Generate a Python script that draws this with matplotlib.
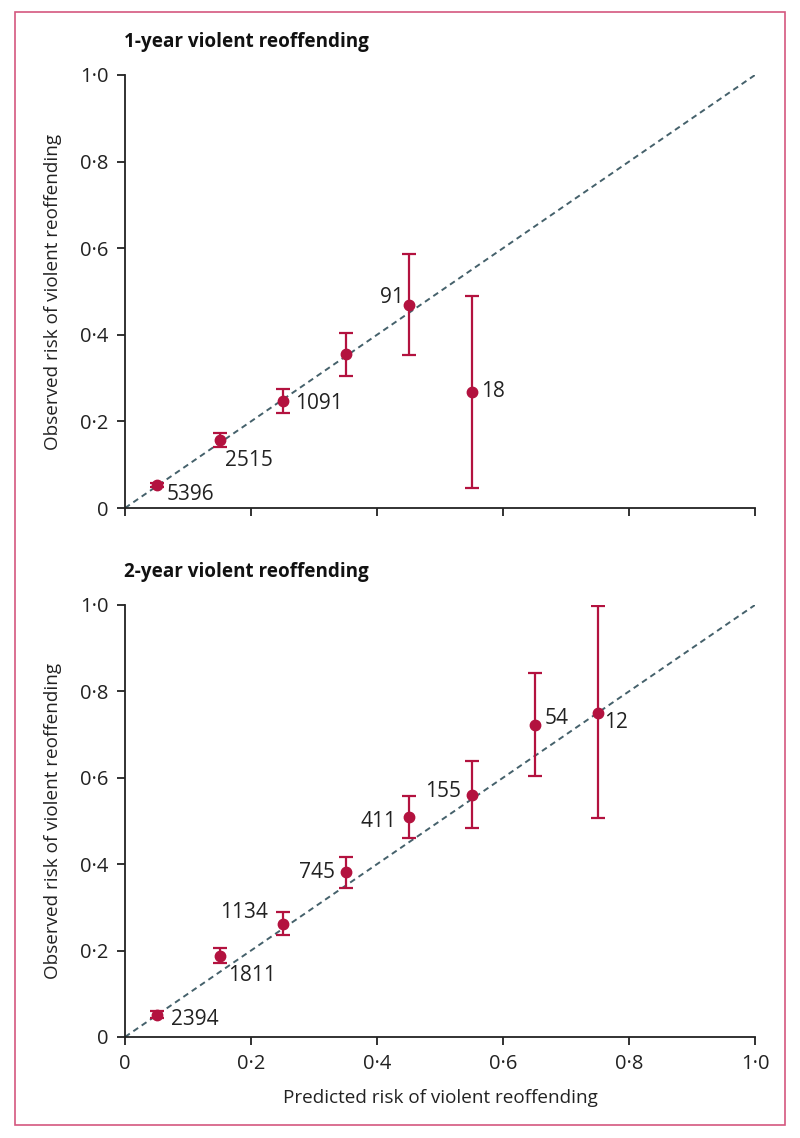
import matplotlib
matplotlib.use("Agg")
import matplotlib.pyplot as plt
from matplotlib.patches import Rectangle
from matplotlib.ticker import FuncFormatter

plt.rcParams['font.family'] = ['Open Sans', 'DejaVu Sans']

# 1-year panel
pred_1y = [0.05, 0.15, 0.25, 0.35, 0.45, 0.55]
obs_1y = [0.053, 0.157, 0.248, 0.355, 0.469, 0.268]
lo_1y = [0.048, 0.141, 0.219, 0.305, 0.353, 0.046]
hi_1y = [0.058, 0.173, 0.275, 0.404, 0.587, 0.490]
n_1y = ["5396", "2515", "1091", "", "91", "18"]
# label placement: (dx px, dy px, ha)
pos_1y = [(10, -9, 'left'), (6, -20, 'left'), (13, -3, 'left'), (0, 0, 'left'),
          (-5, 7, 'right'), (10, 0, 'left')]

# 2-year panel
pred_2y = [0.05, 0.15, 0.25, 0.35, 0.45, 0.55, 0.65, 0.75]
obs_2y = [0.051, 0.188, 0.262, 0.381, 0.509, 0.561, 0.723, 0.751]
lo_2y = [0.043, 0.171, 0.236, 0.345, 0.461, 0.484, 0.604, 0.507]
hi_2y = [0.060, 0.206, 0.289, 0.417, 0.558, 0.639, 0.843, 0.997]
n_2y = ["2394", "1811", "1134", "745", "411", "155", "54", "12"]
pos_2y = [(14, -5, 'left'), (9, -20, 'left'), (-15, 11, 'right'), (-10, 0, 'right'),
          (-12, -4, 'right'), (-10, 3, 'right'), (10, 6, 'left'), (7, -10, 'left')]

ticks = [0, 0.2, 0.4, 0.6, 0.8, 1.0]
red = '#b3123f'
slate = '#45616b'
ink = '#222222'
fmt = FuncFormatter(lambda v, p: '0' if abs(v) < 1e-9 else f'{v:.1f}'.replace('.', '·'))

fig = plt.figure(figsize=(8, 11.38), dpi=100)
fig.patches.append(Rectangle((15 / 800, 1 - 1125 / 1138), 770 / 800, 1113 / 1138,
                             transform=fig.transFigure, fill=False,
                             edgecolor='#d4587f', lw=1.2))

ax1 = fig.add_axes([0.15625, 0.5536, 0.7875, 0.3805])
ax2 = fig.add_axes([0.15625, 0.0888, 0.7875, 0.3796])


def panel(ax, x, y, lo, hi, labels, pos, title, xlabels):
    ax.plot([0, 1], [0, 1], ls=(0, (3, 2.2)), color=slate, lw=1.4, zorder=1)
    err = [[yy - l for yy, l in zip(y, lo)], [h - yy for yy, h in zip(y, hi)]]
    ax.errorbar(x, y, yerr=err, fmt='o', color=red, ms=7.5, lw=1.6,
                capsize=5, capthick=1.6, zorder=3)
    for xi, yi, t, (dx, dy, ha) in zip(x, y, labels, pos):
        if t:
            ax.annotate(t, (xi, yi), xytext=(dx * 0.72, dy * 0.72),
                        textcoords='offset points', ha=ha, va='center',
                        fontsize=15, color=ink)
    ax.set_xlim(0, 1)
    ax.set_ylim(0, 1)
    ax.set_xticks(ticks)
    ax.set_yticks(ticks)
    ax.xaxis.set_major_formatter(fmt)
    ax.yaxis.set_major_formatter(fmt)
    if not xlabels:
        ax.tick_params(axis='x', labelbottom=False)
    for s in ['top', 'right']:
        ax.spines[s].set_visible(False)
    for s in ['left', 'bottom']:
        ax.spines[s].set_linewidth(1.3)
        ax.spines[s].set_color(ink)
    ax.tick_params(length=6, width=1.3, labelsize=14.5, colors=ink, pad=6)
    ax.set_ylabel("Observed risk of violent reoffending", fontsize=13.6,
                  color=ink, labelpad=13)
    ax.set_title(title, loc='left', fontweight='bold', fontsize=13.6,
                 color='#111111', pad=20, x=-0.002)


panel(ax1, pred_1y, obs_1y, lo_1y, hi_1y, n_1y, pos_1y,
      "1-year violent reoffending", False)
panel(ax2, pred_2y, obs_2y, lo_2y, hi_2y, n_2y, pos_2y,
      "2-year violent reoffending", True)
ax2.set_xlabel("Predicted risk of violent reoffending", fontsize=13.6,
               color=ink, labelpad=11)

fig.savefig("out.png", dpi=100)
